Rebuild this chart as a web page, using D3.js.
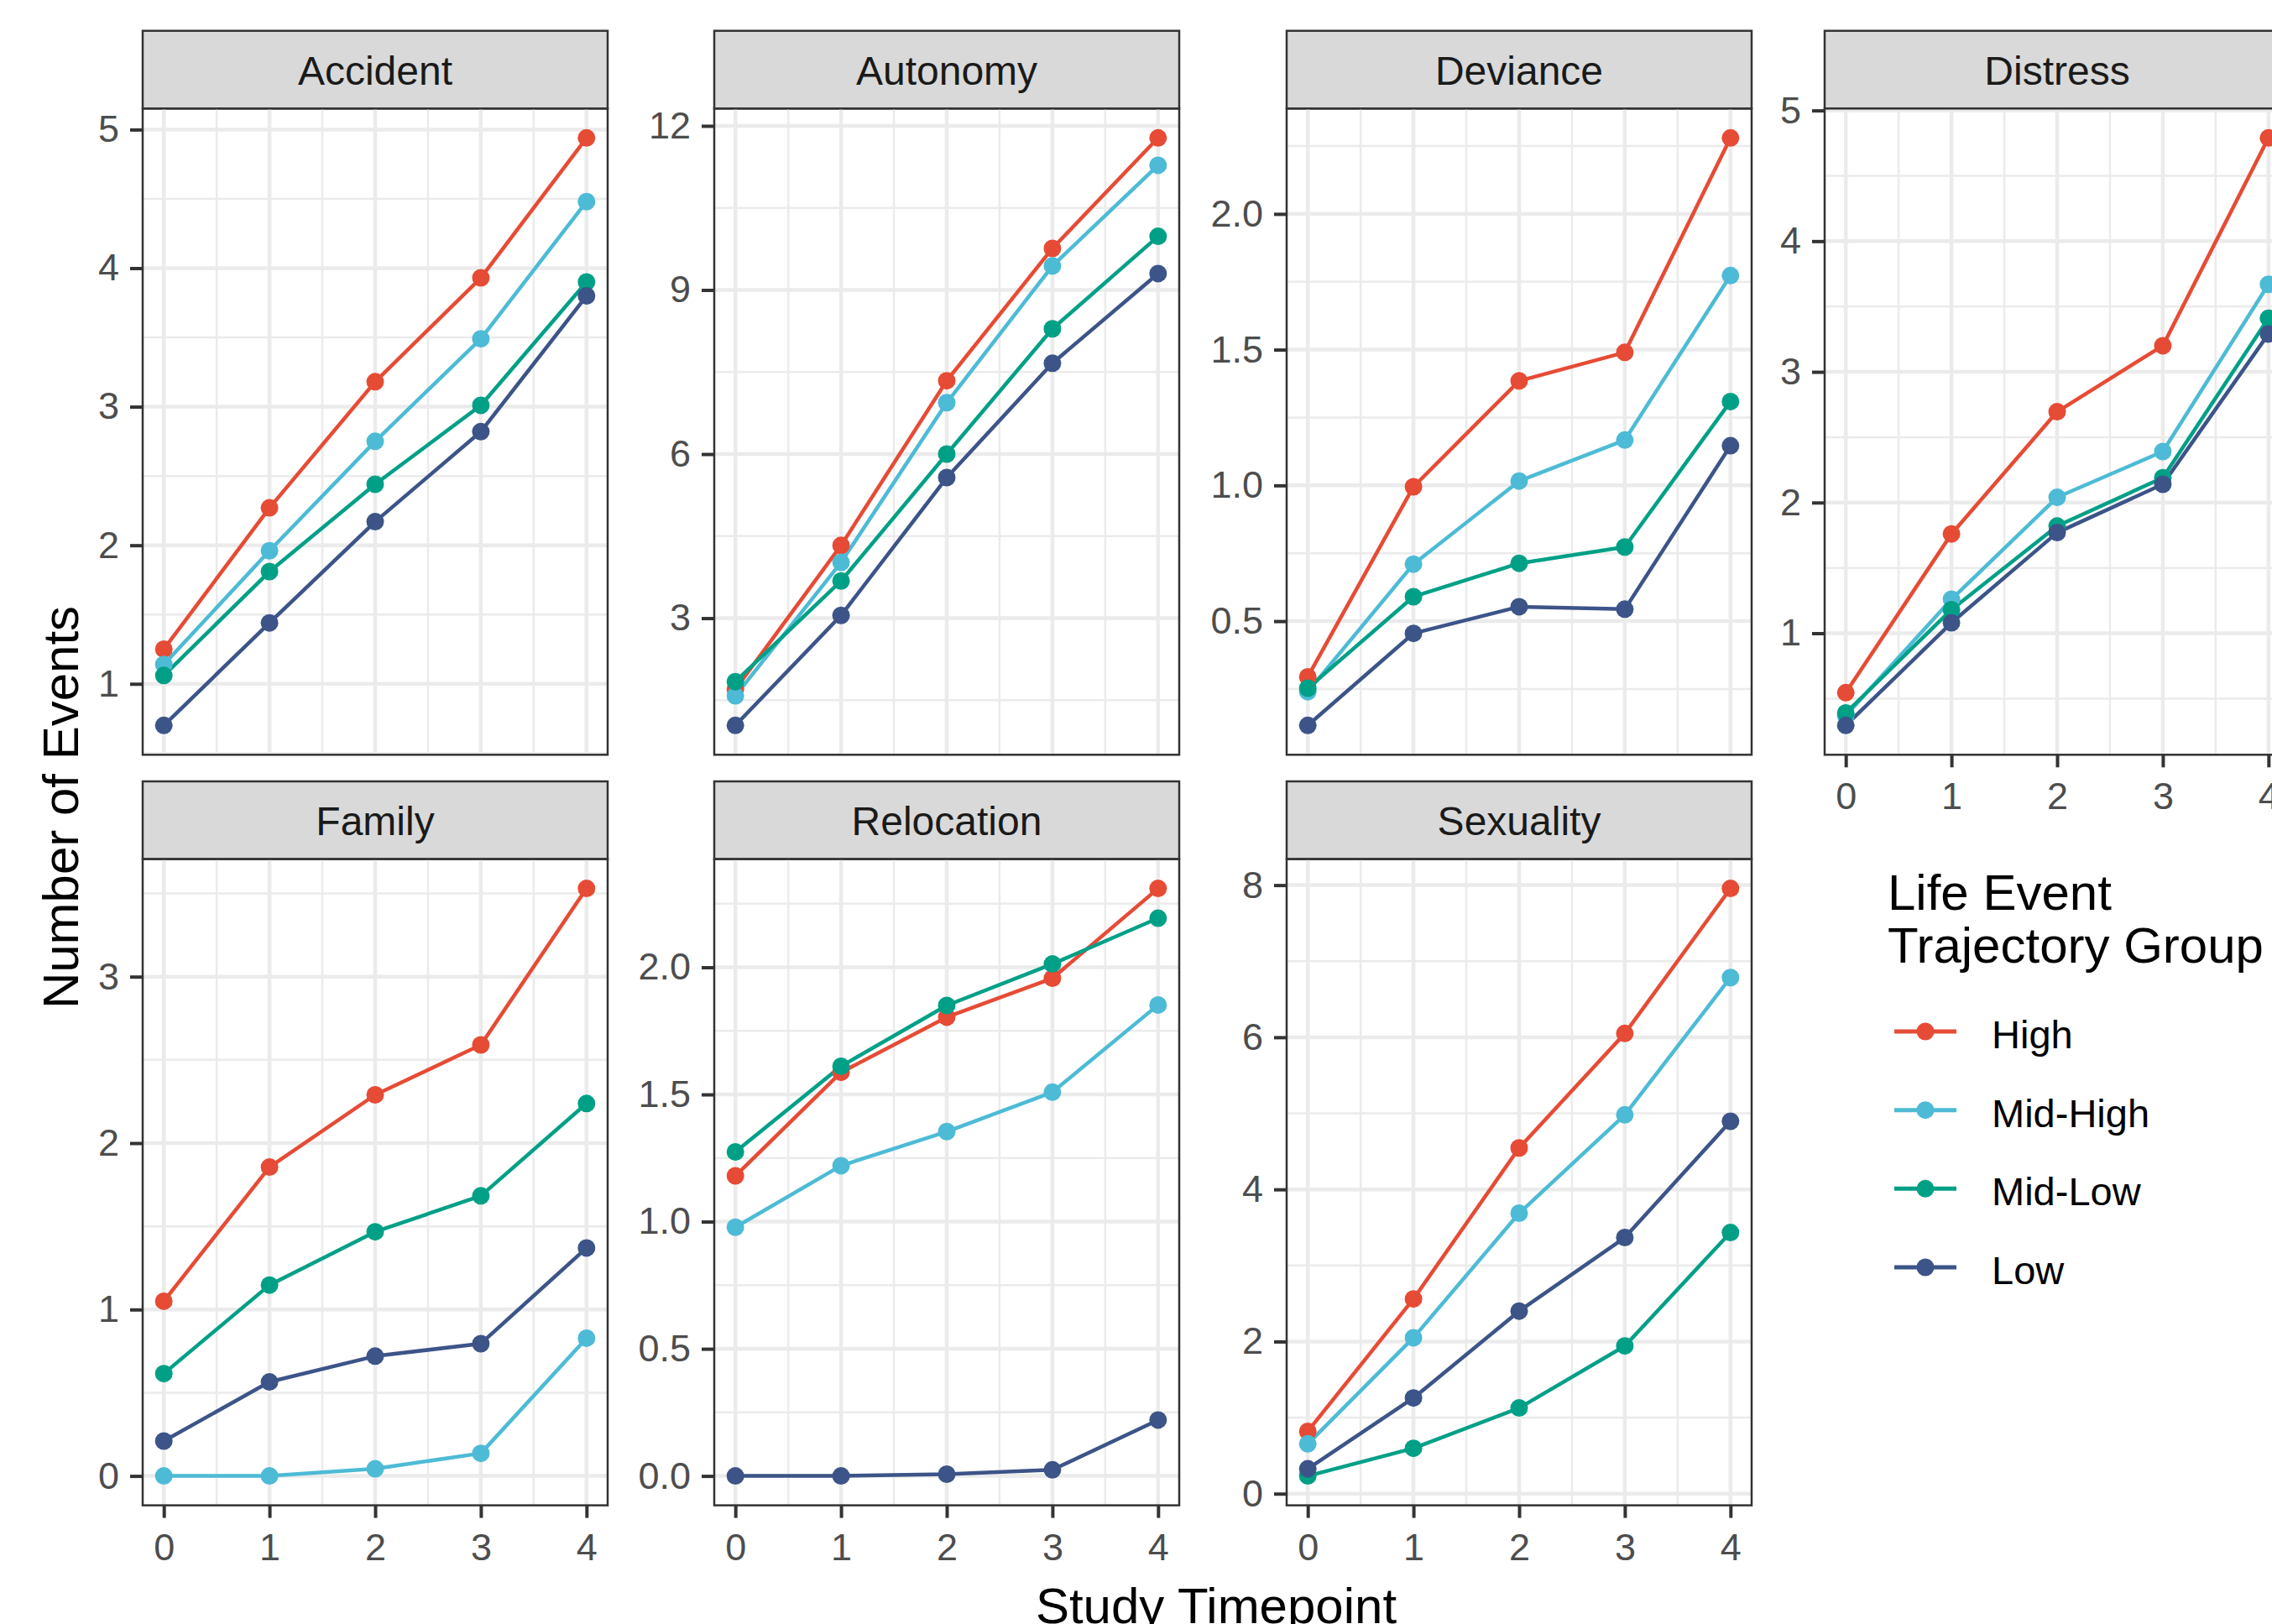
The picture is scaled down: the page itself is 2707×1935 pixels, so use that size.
<!DOCTYPE html>
<html>
<head>
<meta charset="utf-8">
<script src="https://cdn.jsdelivr.net/npm/d3@7"></script>
<style>
  body { margin: 0; background: #fff; }
  text { font-family: "Liberation Sans", Arial, sans-serif; }
</style>
</head>
<body>
<div id="chart"></div>
<script>
const width = 2707;
const height = 1935;

const categories = ["Accident", "Autonomy", "Deviance", "Distress", "Family", "Relocation", "Sexuality"];
const groups = ["High", "Mid-High", "Mid-Low", "Low"];
const groupColors = ["#E64B35", "#4DBBD5", "#00A087", "#3C5488"];
const timepoints = [0, 1, 2, 3, 4];

// one row per group, in the order of `groups`
const accident = [
    [1.25, 2.27, 3.18, 3.93, 4.94],
    [1.14, 1.96, 2.75, 3.49, 4.48],
    [1.06, 1.81, 2.44, 3.01, 3.90],
    [0.70, 1.44, 2.17, 2.82, 3.80]
];
const autonomy = [
    [1.70, 4.33, 7.34, 9.76, 11.78],
    [1.58, 4.02, 6.94, 9.44, 11.28],
    [1.84, 3.68, 6.00, 8.29, 9.98],
    [1.04, 3.05, 5.57, 7.66, 9.30]
];
const deviance = [
    [0.295, 0.995, 1.385, 1.49, 2.28],
    [0.24, 0.71, 1.016, 1.167, 1.773],
    [0.253, 0.59, 0.713, 0.773, 1.309],
    [0.116, 0.455, 0.553, 0.544, 1.146]
];
const distress = [
    [0.545, 1.76, 2.695, 3.20, 4.79],
    [0.37, 1.26, 2.04, 2.39, 3.67],
    [0.39, 1.18, 1.82, 2.19, 3.41],
    [0.295, 1.08, 1.77, 2.14, 3.29]
];
const family = [
    [1.05, 1.856, 2.29, 2.59, 3.53],
    [0.0, 0.0, 0.043, 0.136, 0.828],
    [0.615, 1.147, 1.467, 1.683, 2.238],
    [0.21, 0.565, 0.72, 0.795, 1.37]
];
const relocation = [
    [1.18, 1.587, 1.804, 1.957, 2.31],
    [0.978, 1.22, 1.354, 1.509, 1.852],
    [1.274, 1.611, 1.85, 2.013, 2.193],
    [0.0, 0.0, 0.007, 0.024, 0.22]
];
const sexuality = [
    [0.82, 2.56, 4.545, 6.05, 7.956],
    [0.655, 2.05, 3.687, 4.98, 6.785],
    [0.233, 0.596, 1.127, 1.942, 3.433],
    [0.327, 1.258, 2.40, 3.367, 4.895]
];

const accidentTicks = [1, 2, 3, 4, 5];
const autonomyTicks = [3, 6, 9, 12];
const devianceTicks = [0.5, 1.0, 1.5, 2.0];
const distressTicks = [1, 2, 3, 4, 5];
const familyTicks = [0, 1, 2, 3];
const relocationTicks = [0.0, 0.5, 1.0, 1.5, 2.0];
const sexualityTicks = [0, 2, 4, 6, 8];

const panelValues = [accident, autonomy, deviance, distress, family, relocation, sexuality];
const panelTicks = [accidentTicks, autonomyTicks, devianceTicks, distressTicks, familyTicks, relocationTicks, sexualityTicks];
const panelFormats = ["d", "d", ".1f", "d", "d", ".1f", "d"];

// layout
const colLeft = [170, 851, 1533, 2174];
const rowTop = [36.7, 931];
const stripH = 92.6;
const panelW = 554;
const panelH = 770;

let svg = d3.select("#chart")
    .append("svg")
    .attr("width", width)
    .attr("height", height)
    .attr("viewBox", `0 0 ${width} ${height}`);

svg.append("rect").attr("width", width).attr("height", height).attr("fill", "#fff");

let x = d3.scaleLinear()
    .domain([-0.2, 4.2])
    .range([0, panelW]);

let color = d3.scaleOrdinal().domain(groups).range(groupColors);

let minorOf = (ticks, domain) => {
    let step = ticks[1] - ticks[0];
    let out = [ticks[0] - step / 2];
    ticks.forEach(t => out.push(t + step / 2));
    let lo = Math.min(...domain), hi = Math.max(...domain);
    return out.filter(v => v >= lo && v <= hi);
};

categories.forEach((cat, i) => {
    let col = i % 4;
    let row = Math.floor(i / 4);
    let values = panelValues[i];
    let ticks = panelTicks[i];

    let ext = d3.extent(values.flat());
    let pad = (ext[1] - ext[0]) * 0.05;
    let y = d3.scaleLinear()
        .domain([ext[0] - pad, ext[1] + pad])
        .range([panelH, 0]);

    let g = svg.append("g")
        .attr("transform", `translate(${colLeft[col]}, ${rowTop[row]})`);

    // strip
    g.append("rect")
        .attr("width", panelW)
        .attr("height", stripH)
        .attr("fill", "#D9D9D9")
        .attr("stroke", "#333333")
        .attr("stroke-width", 2.5);

    g.append("text")
        .attr("x", panelW / 2)
        .attr("y", stripH / 2)
        .attr("dy", "0.37em")
        .attr("text-anchor", "middle")
        .attr("fill", "#1A1A1A")
        .style("font-size", "48px")
        .text(cat);

    let p = g.append("g").attr("transform", `translate(0, ${stripH})`);

    // grid
    let xMinor = minorOf(timepoints, x.domain());
    let yMinor = minorOf(ticks, y.domain());

    p.selectAll(".xminor").data(xMinor).enter().append("line")
        .attr("x1", d => x(d)).attr("x2", d => x(d))
        .attr("y1", 0).attr("y2", panelH)
        .attr("stroke", "#EBEBEB").attr("stroke-width", 2.5);
    p.selectAll(".yminor").data(yMinor).enter().append("line")
        .attr("x1", 0).attr("x2", panelW)
        .attr("y1", d => y(d)).attr("y2", d => y(d))
        .attr("stroke", "#EBEBEB").attr("stroke-width", 2.5);
    p.selectAll(".xmajor").data(timepoints).enter().append("line")
        .attr("x1", d => x(d)).attr("x2", d => x(d))
        .attr("y1", 0).attr("y2", panelH)
        .attr("stroke", "#EBEBEB").attr("stroke-width", 4.5);
    p.selectAll(".ymajor").data(ticks).enter().append("line")
        .attr("x1", 0).attr("x2", panelW)
        .attr("y1", d => y(d)).attr("y2", d => y(d))
        .attr("stroke", "#EBEBEB").attr("stroke-width", 4.5);

    // lines then points
    let line = d3.line()
        .x((d, j) => x(timepoints[j]))
        .y(d => y(d));

    p.selectAll(".series").data(values).enter().append("path")
        .attr("d", d => line(d))
        .attr("fill", "none")
        .attr("stroke", (d, k) => color(groups[k]))
        .attr("stroke-width", 4.5)
        .attr("stroke-linejoin", "round");

    values.forEach((vals, k) => {
        p.selectAll(null).data(vals).enter().append("circle")
            .attr("cx", (d, j) => x(timepoints[j]))
            .attr("cy", d => y(d))
            .attr("r", 10.5)
            .attr("fill", color(groups[k]));
    });

    p.append("rect")
        .attr("width", panelW)
        .attr("height", panelH)
        .attr("fill", "none")
        .attr("stroke", "#333333")
        .attr("stroke-width", 2.5);

    // y axis
    let yAxis = p.append("g")
        .call(d3.axisLeft(y).tickValues(ticks).tickSize(15).tickPadding(13)
            .tickFormat(d3.format(panelFormats[i])));
    yAxis.select(".domain").remove();
    yAxis.selectAll("line").attr("stroke", "#333333").attr("stroke-width", 4);
    yAxis.selectAll("text")
        .attr("fill", "#4D4D4D")
        .style("font-size", "45px")
        .style("font-family", "'Liberation Sans', Arial, sans-serif");

    // x axis on the bottom panel of each column
    if (i >= 3) {
        let xAxis = p.append("g")
            .attr("transform", `translate(0, ${panelH})`)
            .call(d3.axisBottom(x).tickValues(timepoints).tickSize(15).tickPadding(18)
                .tickFormat(d3.format("d")));
        xAxis.select(".domain").remove();
        xAxis.selectAll("line").attr("stroke", "#333333").attr("stroke-width", 4);
        xAxis.selectAll("text")
            .attr("fill", "#4D4D4D")
            .style("font-size", "45px")
            .style("font-family", "'Liberation Sans', Arial, sans-serif");
    }
});

// axis titles
svg.append("text")
    .attr("x", 1449)
    .attr("y", 1934)
    .attr("text-anchor", "middle")
    .attr("fill", "#000")
    .style("font-size", "60px")
    .text("Study Timepoint");

svg.append("text")
    .attr("transform", "translate(93, 962) rotate(-90)")
    .attr("text-anchor", "middle")
    .attr("fill", "#000")
    .style("font-size", "60px")
    .text("Number of Events");

// legend
let legend = svg.append("g");

legend.append("text")
    .attr("x", 2249).attr("y", 1084)
    .style("font-size", "60px")
    .text("Life Event");
legend.append("text")
    .attr("x", 2249).attr("y", 1147)
    .style("font-size", "60px")
    .text("Trajectory Group");

let keyY = d3.scalePoint().domain(groups).range([1229, 1510]);

let keys = legend.selectAll(".key").data(groups).enter().append("g")
    .attr("transform", d => `translate(2257, ${keyY(d)})`);

keys.append("line")
    .attr("x1", 0).attr("x2", 74)
    .attr("stroke", d => color(d))
    .attr("stroke-width", 5);
keys.append("circle")
    .attr("cx", 37)
    .attr("r", 10.5)
    .attr("fill", d => color(d));
keys.append("text")
    .attr("x", 116)
    .attr("y", 3)
    .attr("dy", "0.36em")
    .style("font-size", "47px")
    .text(d => d);
</script>
</body>
</html>
